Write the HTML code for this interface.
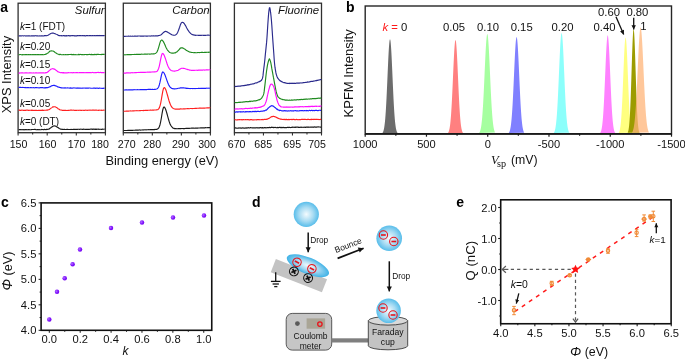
<!DOCTYPE html>
<html><head><meta charset="utf-8"><title>Figure</title>
<style>html,body{margin:0;padding:0;background:#fff;width:685px;height:360px;overflow:hidden}svg text{font-family:"Liberation Sans",sans-serif}</style>
</head><body>
<svg width="685" height="360" viewBox="0 0 685 360" style="display:block;filter:blur(0.4px);font-family:'Liberation Sans',sans-serif"><text x="0.20" y="11.70" font-size="14" text-anchor="start" fill="#000" style="font-weight:bold" >a</text>
<rect x="18.1" y="3.2" width="87.30" height="129.50" fill="none" stroke="#303030" stroke-width="1.3"/>
<rect x="123.3" y="3.2" width="87.10" height="129.50" fill="none" stroke="#303030" stroke-width="1.3"/>
<rect x="234.4" y="3.2" width="87.10" height="129.50" fill="none" stroke="#303030" stroke-width="1.3"/>
<line x1="18.10" y1="132.70" x2="18.10" y2="135.50" stroke="#303030" stroke-width="1.1" />
<line x1="32.65" y1="132.70" x2="32.65" y2="134.50" stroke="#303030" stroke-width="1.1" />
<line x1="47.20" y1="132.70" x2="47.20" y2="135.50" stroke="#303030" stroke-width="1.1" />
<line x1="61.75" y1="132.70" x2="61.75" y2="134.50" stroke="#303030" stroke-width="1.1" />
<line x1="76.30" y1="132.70" x2="76.30" y2="135.50" stroke="#303030" stroke-width="1.1" />
<line x1="90.85" y1="132.70" x2="90.85" y2="134.50" stroke="#303030" stroke-width="1.1" />
<line x1="105.40" y1="132.70" x2="105.40" y2="135.50" stroke="#303030" stroke-width="1.1" />
<line x1="123.30" y1="132.70" x2="123.30" y2="135.50" stroke="#303030" stroke-width="1.1" />
<line x1="137.82" y1="132.70" x2="137.82" y2="134.50" stroke="#303030" stroke-width="1.1" />
<line x1="152.33" y1="132.70" x2="152.33" y2="135.50" stroke="#303030" stroke-width="1.1" />
<line x1="166.85" y1="132.70" x2="166.85" y2="134.50" stroke="#303030" stroke-width="1.1" />
<line x1="181.37" y1="132.70" x2="181.37" y2="135.50" stroke="#303030" stroke-width="1.1" />
<line x1="195.88" y1="132.70" x2="195.88" y2="134.50" stroke="#303030" stroke-width="1.1" />
<line x1="210.40" y1="132.70" x2="210.40" y2="135.50" stroke="#303030" stroke-width="1.1" />
<line x1="234.40" y1="132.70" x2="234.40" y2="135.50" stroke="#303030" stroke-width="1.1" />
<line x1="248.92" y1="132.70" x2="248.92" y2="134.50" stroke="#303030" stroke-width="1.1" />
<line x1="263.43" y1="132.70" x2="263.43" y2="135.50" stroke="#303030" stroke-width="1.1" />
<line x1="277.95" y1="132.70" x2="277.95" y2="134.50" stroke="#303030" stroke-width="1.1" />
<line x1="292.47" y1="132.70" x2="292.47" y2="135.50" stroke="#303030" stroke-width="1.1" />
<line x1="306.98" y1="132.70" x2="306.98" y2="134.50" stroke="#303030" stroke-width="1.1" />
<line x1="321.50" y1="132.70" x2="321.50" y2="135.50" stroke="#303030" stroke-width="1.1" />
<text x="18.50" y="147.60" font-size="10.6" text-anchor="middle" fill="#111" style="" >150</text>
<text x="47.50" y="147.60" font-size="10.6" text-anchor="middle" fill="#111" style="" >160</text>
<text x="76.50" y="147.60" font-size="10.6" text-anchor="middle" fill="#111" style="" >170</text>
<text x="100.00" y="147.60" font-size="10.6" text-anchor="middle" fill="#111" style="" >180</text>
<text x="126.70" y="147.60" font-size="10.6" text-anchor="middle" fill="#111" style="" >270</text>
<text x="152.20" y="147.60" font-size="10.6" text-anchor="middle" fill="#111" style="" >280</text>
<text x="180.80" y="147.60" font-size="10.6" text-anchor="middle" fill="#111" style="" >290</text>
<text x="207.00" y="147.60" font-size="10.6" text-anchor="middle" fill="#111" style="" >300</text>
<text x="236.60" y="147.60" font-size="10.6" text-anchor="middle" fill="#111" style="" >670</text>
<text x="263.20" y="147.60" font-size="10.6" text-anchor="middle" fill="#111" style="" >685</text>
<text x="292.20" y="147.60" font-size="10.6" text-anchor="middle" fill="#111" style="" >695</text>
<text x="317.00" y="147.60" font-size="10.6" text-anchor="middle" fill="#111" style="" >705</text>
<text x="162.00" y="164.60" font-size="12.8" text-anchor="middle" fill="#111" style="" >Binding energy (eV)</text>
<text transform="translate(10.6,74.6) rotate(-90)" font-size="12.9" text-anchor="middle" fill="#111">XPS Intensity</text>
<text x="104.60" y="14.00" font-size="11.4" text-anchor="end" fill="#111" style="font-style:italic" >Sulfur</text>
<text x="209.60" y="14.00" font-size="11.4" text-anchor="end" fill="#111" style="font-style:italic" >Carbon</text>
<text x="319.20" y="14.00" font-size="11.4" text-anchor="end" fill="#111" style="font-style:italic" >Fluorine</text>
<text x="19.9" y="29.9" font-size="10" fill="#111"><tspan style="font-style:italic">k</tspan>=1 (FDT)</text>
<text x="19.9" y="49.7" font-size="10" fill="#111"><tspan style="font-style:italic">k</tspan>=0.20</text>
<text x="19.9" y="68.3" font-size="10" fill="#111"><tspan style="font-style:italic">k</tspan>=0.15</text>
<text x="19.9" y="84.0" font-size="10" fill="#111"><tspan style="font-style:italic">k</tspan>=0.10</text>
<text x="19.9" y="107.0" font-size="10" fill="#111"><tspan style="font-style:italic">k</tspan>=0.05</text>
<text x="19.9" y="125.1" font-size="10" fill="#111"><tspan style="font-style:italic">k</tspan>=0 (DT)</text>
<polyline points="18.60,35.81 19.30,35.91 20.00,35.85 20.70,35.93 21.40,35.93 22.10,35.73 22.80,35.71 23.50,36.00 24.20,35.79 24.90,35.78 25.60,36.05 26.30,35.86 27.00,35.99 27.70,35.86 28.40,35.91 29.10,35.74 29.80,35.91 30.50,35.99 31.20,35.86 31.90,35.94 32.60,35.91 33.30,35.69 34.00,35.94 34.70,35.87 35.40,35.77 36.10,35.67 36.80,35.96 37.50,35.82 38.20,35.91 38.90,35.96 39.60,35.90 40.30,35.97 41.00,35.78 41.70,35.92 42.40,35.80 43.10,35.96 43.80,35.94 44.50,35.65 45.20,35.64 45.90,35.62 46.60,35.79 47.30,35.44 48.00,35.25 48.70,34.77 49.40,34.41 50.10,33.90 50.80,33.47 51.50,33.24 52.20,33.08 52.90,33.16 53.60,33.17 54.30,33.44 55.00,33.67 55.70,34.04 56.40,34.29 57.10,34.48 57.80,35.07 58.50,35.39 59.20,35.58 59.90,35.61 60.60,35.74 61.30,35.61 62.00,35.85 62.70,35.77 63.40,35.67 64.10,35.59 64.80,35.86 65.50,35.91 66.20,35.59 66.90,35.84 67.60,35.70 68.30,35.60 69.00,35.65 69.70,35.82 70.40,35.85 71.10,35.56 71.80,35.75 72.50,35.55 73.20,35.79 73.90,35.65 74.60,35.84 75.30,35.87 76.00,35.70 76.70,35.87 77.40,35.63 78.10,35.54 78.80,35.73 79.50,35.52 80.20,35.58 80.90,35.65 81.60,35.72 82.30,35.56 83.00,35.52 83.70,35.80 84.40,35.61 85.10,35.83 85.80,35.81 86.50,35.62 87.20,35.65 87.90,35.67 88.60,35.71 89.30,35.69 90.00,35.67 90.70,35.69 91.40,35.80 92.10,35.65 92.80,35.62 93.50,35.72 94.20,35.55 94.90,35.57 95.60,35.80 96.30,35.64 97.00,35.64 97.70,35.45 98.40,35.59 99.10,35.65 99.80,35.45 100.50,35.66 101.20,35.66 101.90,35.46 102.60,35.65 103.30,35.59 104.00,35.67 104.70,35.55" fill="none" stroke="#2a2a8c" stroke-width="1.15" stroke-linejoin="round" />
<polyline points="18.60,54.77 19.30,54.78 20.00,54.53 20.70,54.54 21.40,54.75 22.10,54.85 22.80,54.60 23.50,54.67 24.20,54.72 24.90,54.62 25.60,54.63 26.30,54.62 27.00,54.63 27.70,54.71 28.40,54.61 29.10,54.63 29.80,54.77 30.50,54.51 31.20,54.69 31.90,54.75 32.60,54.60 33.30,54.57 34.00,54.77 34.70,54.57 35.40,54.55 36.10,54.64 36.80,54.73 37.50,54.52 38.20,54.59 38.90,54.59 39.60,54.77 40.30,54.63 41.00,54.77 41.70,54.53 42.40,54.58 43.10,54.68 43.80,54.74 44.50,54.53 45.20,54.34 45.90,54.11 46.60,53.93 47.30,53.35 48.00,52.99 48.70,52.36 49.40,51.52 50.10,51.08 50.80,50.97 51.50,50.82 52.20,50.97 52.90,51.03 53.60,51.28 54.30,51.76 55.00,52.43 55.70,52.77 56.40,53.29 57.10,53.74 57.80,54.07 58.50,54.29 59.20,54.61 59.90,54.42 60.60,54.40 61.30,54.74 62.00,54.73 62.70,54.77 63.40,54.57 64.10,54.75 64.80,54.74 65.50,54.49 66.20,54.68 66.90,54.71 67.60,54.64 68.30,54.59 69.00,54.51 69.70,54.53 70.40,54.48 71.10,54.43 71.80,54.61 72.50,54.50 73.20,54.68 73.90,54.41 74.60,54.71 75.30,54.64 76.00,54.72 76.70,54.70 77.40,54.70 78.10,54.59 78.80,54.39 79.50,54.64 80.20,54.44 80.90,54.49 81.60,54.61 82.30,54.56 83.00,54.52 83.70,54.70 84.40,54.59 85.10,54.49 85.80,54.46 86.50,54.67 87.20,54.53 87.90,54.64 88.60,54.49 89.30,54.43 90.00,54.55 90.70,54.64 91.40,54.42 92.10,54.63 92.80,54.68 93.50,54.63 94.20,54.64 94.90,54.35 95.60,54.57 96.30,54.65 97.00,54.36 97.70,54.44 98.40,54.43 99.10,54.52 99.80,54.48 100.50,54.50 101.20,54.61 101.90,54.33 102.60,54.35 103.30,54.37 104.00,54.37 104.70,54.35" fill="none" stroke="#1f8a1f" stroke-width="1.15" stroke-linejoin="round" />
<polyline points="18.60,73.16 19.30,73.12 20.00,72.84 20.70,72.99 21.40,72.92 22.10,72.91 22.80,72.92 23.50,73.02 24.20,72.99 24.90,72.91 25.60,72.85 26.30,72.89 27.00,72.82 27.70,72.96 28.40,73.02 29.10,72.89 29.80,72.79 30.50,72.82 31.20,72.88 31.90,72.96 32.60,73.02 33.30,72.87 34.00,73.01 34.70,72.95 35.40,72.88 36.10,72.85 36.80,72.89 37.50,72.96 38.20,72.86 38.90,72.95 39.60,72.86 40.30,72.78 41.00,72.88 41.70,72.93 42.40,72.71 43.10,72.83 43.80,72.82 44.50,72.95 45.20,72.93 45.90,72.64 46.60,72.65 47.30,72.32 48.00,71.70 48.70,71.18 49.40,70.38 50.10,69.92 50.80,69.27 51.50,68.94 52.20,68.71 52.90,68.68 53.60,68.89 54.30,69.14 55.00,69.40 55.70,70.08 56.40,70.43 57.10,71.04 57.80,71.76 58.50,71.91 59.20,72.21 59.90,72.40 60.60,72.78 61.30,72.59 62.00,72.56 62.70,72.86 63.40,72.60 64.10,72.85 64.80,72.79 65.50,72.84 66.20,72.88 66.90,72.75 67.60,72.82 68.30,72.55 69.00,72.80 69.70,72.71 70.40,72.77 71.10,72.56 71.80,72.78 72.50,72.84 73.20,72.53 73.90,72.62 74.60,72.70 75.30,72.79 76.00,72.58 76.70,72.55 77.40,72.57 78.10,72.70 78.80,72.74 79.50,72.61 80.20,72.60 80.90,72.60 81.60,72.58 82.30,72.60 83.00,72.48 83.70,72.62 84.40,72.78 85.10,72.58 85.80,72.70 86.50,72.49 87.20,72.67 87.90,72.69 88.60,72.66 89.30,72.60 90.00,72.58 90.70,72.63 91.40,72.72 92.10,72.45 92.80,72.43 93.50,72.65 94.20,72.71 94.90,72.56 95.60,72.53 96.30,72.63 97.00,72.44 97.70,72.46 98.40,72.43 99.10,72.56 99.80,72.47 100.50,72.43 101.20,72.59 101.90,72.68 102.60,72.44 103.30,72.58 104.00,72.48 104.70,72.63" fill="none" stroke="#ff10ff" stroke-width="1.15" stroke-linejoin="round" />
<polyline points="18.60,87.54 19.30,87.43 20.00,87.42 20.70,87.36 21.40,87.52 22.10,87.50 22.80,87.43 23.50,87.50 24.20,87.49 24.90,87.66 25.60,87.45 26.30,87.75 27.00,87.58 27.70,87.62 28.40,87.58 29.10,87.72 29.80,87.72 30.50,87.63 31.20,87.61 31.90,87.71 32.60,87.76 33.30,87.61 34.00,87.73 34.70,87.81 35.40,87.65 36.10,87.57 36.80,87.58 37.50,87.76 38.20,87.75 38.90,87.85 39.60,87.82 40.30,87.61 41.00,87.60 41.70,87.63 42.40,87.61 43.10,87.80 43.80,87.86 44.50,87.88 45.20,87.66 45.90,87.86 46.60,87.64 47.30,87.62 48.00,87.61 48.70,87.19 49.40,86.92 50.10,86.82 50.80,86.24 51.50,85.89 52.20,85.67 52.90,85.53 53.60,85.25 54.30,85.42 55.00,85.61 55.70,85.84 56.40,86.01 57.10,86.46 57.80,86.92 58.50,87.04 59.20,87.37 59.90,87.43 60.60,87.63 61.30,87.86 62.00,87.73 62.70,88.03 63.40,88.05 64.10,87.78 64.80,88.08 65.50,87.89 66.20,88.04 66.90,88.04 67.60,87.88 68.30,88.02 69.00,88.02 69.70,88.08 70.40,87.90 71.10,88.08 71.80,88.16 72.50,88.06 73.20,88.02 73.90,87.88 74.60,88.02 75.30,87.98 76.00,88.11 76.70,88.10 77.40,88.07 78.10,87.94 78.80,88.11 79.50,88.11 80.20,87.96 80.90,88.21 81.60,88.14 82.30,87.96 83.00,88.25 83.70,87.98 84.40,88.05 85.10,88.19 85.80,88.16 86.50,88.15 87.20,88.19 87.90,88.13 88.60,88.08 89.30,88.04 90.00,88.01 90.70,88.24 91.40,88.26 92.10,88.20 92.80,88.27 93.50,88.14 94.20,88.12 94.90,88.17 95.60,88.34 96.30,88.06 97.00,88.23 97.70,88.14 98.40,88.33 99.10,88.19 99.80,88.19 100.50,88.22 101.20,88.28 101.90,88.37 102.60,88.23 103.30,88.41 104.00,88.16 104.70,88.22" fill="none" stroke="#1e1eff" stroke-width="1.15" stroke-linejoin="round" />
<polyline points="18.60,110.16 19.30,110.16 20.00,110.40 20.70,110.38 21.40,110.19 22.10,110.19 22.80,110.27 23.50,110.39 24.20,110.41 24.90,110.39 25.60,110.33 26.30,110.18 27.00,110.26 27.70,110.19 28.40,110.31 29.10,110.32 29.80,110.20 30.50,110.21 31.20,110.40 31.90,110.14 32.60,110.41 33.30,110.44 34.00,110.46 34.70,110.26 35.40,110.32 36.10,110.33 36.80,110.35 37.50,110.47 38.20,110.37 38.90,110.23 39.60,110.43 40.30,110.29 41.00,110.34 41.70,110.38 42.40,110.13 43.10,110.39 43.80,110.36 44.50,110.29 45.20,110.30 45.90,110.26 46.60,110.14 47.30,110.18 48.00,109.86 48.70,109.78 49.40,109.45 50.10,108.88 50.80,108.34 51.50,107.89 52.20,107.35 52.90,106.74 53.60,106.81 54.30,106.76 55.00,106.72 55.70,107.10 56.40,107.42 57.10,107.80 57.80,108.45 58.50,109.07 59.20,109.29 59.90,109.83 60.60,110.02 61.30,109.99 62.00,110.34 62.70,110.30 63.40,110.43 64.10,110.37 64.80,110.38 65.50,110.24 66.20,110.41 66.90,110.45 67.60,110.43 68.30,110.28 69.00,110.39 69.70,110.29 70.40,110.16 71.10,110.14 71.80,110.15 72.50,110.20 73.20,110.18 73.90,110.30 74.60,110.37 75.30,110.31 76.00,110.27 76.70,110.35 77.40,110.23 78.10,110.29 78.80,110.39 79.50,110.27 80.20,110.19 80.90,110.44 81.60,110.38 82.30,110.25 83.00,110.25 83.70,110.31 84.40,110.33 85.10,110.20 85.80,110.13 86.50,110.20 87.20,110.40 87.90,110.18 88.60,110.29 89.30,110.19 90.00,110.20 90.70,110.18 91.40,110.27 92.10,110.18 92.80,110.13 93.50,110.16 94.20,110.18 94.90,110.30 95.60,110.15 96.30,110.13 97.00,110.28 97.70,110.27 98.40,110.37 99.10,110.14 99.80,110.27 100.50,110.26 101.20,110.13 101.90,110.46 102.60,110.20 103.30,110.16 104.00,110.29 104.70,110.18" fill="none" stroke="#ff2020" stroke-width="1.15" stroke-linejoin="round" />
<polyline points="18.60,129.74 19.30,129.64 20.00,129.56 20.70,129.53 21.40,129.76 22.10,129.60 22.80,129.77 23.50,129.66 24.20,129.82 24.90,129.59 25.60,129.57 26.30,129.57 27.00,129.76 27.70,129.69 28.40,129.59 29.10,129.49 29.80,129.70 30.50,129.79 31.20,129.66 31.90,129.45 32.60,129.45 33.30,129.47 34.00,129.49 34.70,129.44 35.40,129.44 36.10,129.65 36.80,129.73 37.50,129.48 38.20,129.75 38.90,129.57 39.60,129.68 40.30,129.72 41.00,129.72 41.70,129.40 42.40,129.49 43.10,129.59 43.80,129.71 44.50,129.40 45.20,129.47 45.90,129.65 46.60,129.36 47.30,129.39 48.00,129.24 48.70,129.15 49.40,128.89 50.10,128.16 50.80,127.79 51.50,127.18 52.20,126.67 52.90,126.17 53.60,126.08 54.30,125.84 55.00,125.98 55.70,126.15 56.40,126.68 57.10,126.99 57.80,127.39 58.50,127.83 59.20,128.47 59.90,128.81 60.60,129.12 61.30,129.19 62.00,129.33 62.70,129.27 63.40,129.49 64.10,129.26 64.80,129.42 65.50,129.52 66.20,129.48 66.90,129.28 67.60,129.32 68.30,129.53 69.00,129.46 69.70,129.54 70.40,129.53 71.10,129.38 71.80,129.53 72.50,129.47 73.20,129.32 73.90,129.33 74.60,129.22 75.30,129.34 76.00,129.53 76.70,129.22 77.40,129.38 78.10,129.22 78.80,129.20 79.50,129.40 80.20,129.25 80.90,129.18 81.60,129.21 82.30,129.38 83.00,129.36 83.70,129.15 84.40,129.22 85.10,129.48 85.80,129.21 86.50,129.33 87.20,129.27 87.90,129.40 88.60,129.33 89.30,129.39 90.00,129.30 90.70,129.17 91.40,129.17 92.10,129.13 92.80,129.38 93.50,129.13 94.20,129.10 94.90,129.42 95.60,129.15 96.30,129.39 97.00,129.10 97.70,129.23 98.40,129.14 99.10,129.35 99.80,129.27 100.50,129.28 101.20,129.31 101.90,129.35 102.60,129.16 103.30,129.25 104.00,129.19 104.70,129.07" fill="none" stroke="#1a1a1a" stroke-width="1.15" stroke-linejoin="round" />
<polyline points="123.60,36.36 124.30,36.30 125.00,36.34 125.70,36.21 126.40,36.26 127.10,36.24 127.80,36.28 128.50,36.15 129.20,36.19 129.90,36.21 130.60,36.12 131.30,36.21 132.00,36.23 132.70,36.16 133.40,36.20 134.10,36.18 134.80,36.09 135.50,36.11 136.20,36.23 136.90,36.09 137.60,36.10 138.30,36.02 139.00,36.04 139.70,36.02 140.40,36.17 141.10,36.12 141.80,36.14 142.50,36.15 143.20,36.07 143.90,36.12 144.60,36.03 145.30,36.00 146.00,36.10 146.70,36.08 147.40,36.08 148.10,35.98 148.80,36.03 149.50,35.95 150.20,36.06 150.90,36.03 151.60,35.90 152.30,36.02 153.00,35.86 153.70,35.83 154.40,35.95 155.10,35.85 155.80,35.88 156.50,35.88 157.20,35.73 157.90,35.81 158.60,35.62 159.30,35.49 160.00,35.22 160.70,34.94 161.40,34.47 162.10,33.79 162.80,33.11 163.50,32.50 164.20,31.97 164.90,31.52 165.60,31.39 166.30,31.59 167.00,31.80 167.70,32.20 168.40,32.64 169.10,33.11 169.80,33.51 170.50,33.93 171.20,34.37 171.90,34.74 172.60,35.00 173.30,35.18 174.00,35.21 174.70,35.26 175.40,34.93 176.10,34.52 176.80,33.86 177.50,32.73 178.20,31.11 178.90,29.24 179.60,27.28 180.30,25.09 181.00,23.44 181.70,22.49 182.40,22.27 183.10,22.46 183.80,23.03 184.50,23.94 185.20,25.14 185.90,26.31 186.60,27.71 187.30,28.96 188.00,30.22 188.70,31.13 189.40,32.12 190.10,32.89 190.80,33.63 191.50,34.12 192.20,34.45 192.90,34.82 193.60,34.93 194.30,35.11 195.00,35.18 195.70,35.34 196.40,35.30 197.10,35.28 197.80,35.24 198.50,35.32 199.20,35.36 199.90,35.36 200.60,35.40 201.30,35.37 202.00,35.25 202.70,35.22 203.40,35.34 204.10,35.33 204.80,35.27 205.50,35.32 206.20,35.26 206.90,35.20 207.60,35.16 208.30,35.12 209.00,35.24 209.70,35.28 210.40,35.28" fill="none" stroke="#2a2a8c" stroke-width="1.15" stroke-linejoin="round" />
<polyline points="123.60,54.78 124.30,54.79 125.00,54.83 125.70,54.78 126.40,54.72 127.10,54.66 127.80,54.66 128.50,54.57 129.20,54.55 129.90,54.63 130.60,54.67 131.30,54.56 132.00,54.51 132.70,54.48 133.40,54.48 134.10,54.53 134.80,54.44 135.50,54.52 136.20,54.34 136.90,54.35 137.60,54.37 138.30,54.33 139.00,54.39 139.70,54.37 140.40,54.37 141.10,54.28 141.80,54.14 142.50,54.23 143.20,54.21 143.90,54.17 144.60,54.11 145.30,54.18 146.00,54.19 146.70,54.01 147.40,54.10 148.10,54.02 148.80,54.03 149.50,54.09 150.20,54.08 150.90,53.99 151.60,53.88 152.30,54.00 153.00,53.82 153.70,53.82 154.40,53.81 155.10,53.52 155.80,53.14 156.50,52.61 157.20,51.50 157.90,49.73 158.60,47.57 159.30,45.06 160.00,42.63 160.70,40.82 161.40,40.16 162.10,40.13 162.80,40.81 163.50,41.87 164.20,43.22 164.90,44.85 165.60,46.47 166.30,47.98 167.00,49.28 167.70,50.44 168.40,51.18 169.10,51.91 169.80,52.54 170.50,52.69 171.20,52.95 171.90,53.11 172.60,53.12 173.30,53.17 174.00,53.01 174.70,52.91 175.40,52.83 176.10,52.33 176.80,52.00 177.50,51.23 178.20,50.65 178.90,49.79 179.60,49.01 180.30,48.27 181.00,47.86 181.70,47.90 182.40,47.88 183.10,48.11 183.80,48.57 184.50,49.01 185.20,49.32 185.90,50.01 186.60,50.42 187.30,50.85 188.00,51.21 188.70,51.62 189.40,52.03 190.10,52.11 190.80,52.25 191.50,52.38 192.20,52.45 192.90,52.55 193.60,52.69 194.30,52.53 195.00,52.56 195.70,52.70 196.40,52.70 197.10,52.68 197.80,52.51 198.50,52.51 199.20,52.61 199.90,52.50 200.60,52.52 201.30,52.42 202.00,52.34 202.70,52.39 203.40,52.45 204.10,52.43 204.80,52.37 205.50,52.33 206.20,52.32 206.90,52.28 207.60,52.28 208.30,52.32 209.00,52.17 209.70,52.23 210.40,52.27" fill="none" stroke="#1f8a1f" stroke-width="1.15" stroke-linejoin="round" />
<polyline points="123.60,73.15 124.30,72.99 125.00,73.12 125.70,73.07 126.40,72.90 127.10,72.90 127.80,72.86 128.50,72.80 129.20,72.96 129.90,72.82 130.60,72.89 131.30,72.71 132.00,72.66 132.70,72.81 133.40,72.76 134.10,72.78 134.80,72.69 135.50,72.63 136.20,72.65 136.90,72.49 137.60,72.55 138.30,72.51 139.00,72.42 139.70,72.49 140.40,72.40 141.10,72.41 141.80,72.36 142.50,72.32 143.20,72.31 143.90,72.33 144.60,72.38 145.30,72.34 146.00,72.30 146.70,72.27 147.40,72.13 148.10,72.24 148.80,72.08 149.50,72.02 150.20,72.07 150.90,72.09 151.60,71.98 152.30,72.02 153.00,71.92 153.70,72.03 154.40,71.89 155.10,71.84 155.80,71.75 156.50,71.60 157.20,71.15 157.90,70.13 158.60,68.49 159.30,66.05 160.00,62.65 160.70,59.05 161.40,55.85 162.10,53.80 162.80,53.37 163.50,54.16 164.20,55.34 164.90,57.22 165.60,59.16 166.30,61.31 167.00,63.48 167.70,65.45 168.40,66.97 169.10,68.35 169.80,69.30 170.50,69.93 171.20,70.40 171.90,70.75 172.60,70.91 173.30,71.00 174.00,71.09 174.70,71.12 175.40,71.00 176.10,70.81 176.80,70.67 177.50,70.48 178.20,70.23 178.90,69.77 179.60,69.35 180.30,68.98 181.00,68.60 181.70,68.28 182.40,68.26 183.10,68.33 183.80,68.33 184.50,68.52 185.20,68.74 185.90,68.97 186.60,69.23 187.30,69.38 188.00,69.66 188.70,69.75 189.40,70.07 190.10,70.10 190.80,70.22 191.50,70.37 192.20,70.30 192.90,70.30 193.60,70.43 194.30,70.38 195.00,70.27 195.70,70.24 196.40,70.28 197.10,70.19 197.80,70.33 198.50,70.17 199.20,70.16 199.90,70.16 200.60,70.16 201.30,70.12 202.00,70.13 202.70,70.11 203.40,70.04 204.10,69.94 204.80,70.09 205.50,70.01 206.20,69.86 206.90,69.91 207.60,69.94 208.30,69.96 209.00,69.75 209.70,69.71 210.40,69.78" fill="none" stroke="#ff10ff" stroke-width="1.15" stroke-linejoin="round" />
<polyline points="123.60,89.97 124.30,90.05 125.00,90.02 125.70,89.91 126.40,89.91 127.10,89.93 127.80,89.98 128.50,89.83 129.20,89.85 129.90,89.77 130.60,89.87 131.30,89.73 132.00,89.90 132.70,89.80 133.40,89.80 134.10,89.69 134.80,89.70 135.50,89.74 136.20,89.80 136.90,89.72 137.60,89.65 138.30,89.78 139.00,89.70 139.70,89.66 140.40,89.58 141.10,89.59 141.80,89.69 142.50,89.52 143.20,89.59 143.90,89.59 144.60,89.52 145.30,89.59 146.00,89.61 146.70,89.58 147.40,89.54 148.10,89.42 148.80,89.38 149.50,89.44 150.20,89.40 150.90,89.36 151.60,89.48 152.30,89.34 153.00,89.44 153.70,89.45 154.40,89.27 155.10,89.40 155.80,89.23 156.50,89.06 157.20,88.74 157.90,88.05 158.60,86.94 159.30,84.94 160.00,82.23 160.70,78.85 161.40,75.34 162.10,72.90 162.80,71.95 163.50,72.24 164.20,73.22 164.90,74.72 165.60,76.67 166.30,78.64 167.00,80.64 167.70,82.56 168.40,84.27 169.10,85.66 169.80,86.65 170.50,87.53 171.20,87.98 171.90,88.43 172.60,88.65 173.30,88.69 174.00,88.86 174.70,88.80 175.40,88.80 176.10,88.74 176.80,88.65 177.50,88.48 178.20,88.25 178.90,88.23 179.60,88.09 180.30,87.89 181.00,87.83 181.70,87.74 182.40,87.88 183.10,87.88 183.80,87.85 184.50,88.05 185.20,88.17 185.90,88.14 186.60,88.35 187.30,88.33 188.00,88.33 188.70,88.49 189.40,88.46 190.10,88.56 190.80,88.55 191.50,88.46 192.20,88.55 192.90,88.61 193.60,88.53 194.30,88.53 195.00,88.58 195.70,88.48 196.40,88.48 197.10,88.48 197.80,88.52 198.50,88.38 199.20,88.34 199.90,88.46 200.60,88.40 201.30,88.34 202.00,88.44 202.70,88.43 203.40,88.34 204.10,88.42 204.80,88.37 205.50,88.34 206.20,88.24 206.90,88.17 207.60,88.29 208.30,88.28 209.00,88.19 209.70,88.20 210.40,88.21" fill="none" stroke="#1e1eff" stroke-width="1.15" stroke-linejoin="round" />
<polyline points="123.60,111.23 124.30,111.29 125.00,111.23 125.70,111.17 126.40,111.09 127.10,111.15 127.80,111.07 128.50,111.12 129.20,110.99 129.90,111.00 130.60,110.93 131.30,110.95 132.00,110.95 132.70,110.83 133.40,110.79 134.10,110.85 134.80,110.77 135.50,110.80 136.20,110.70 136.90,110.66 137.60,110.72 138.30,110.77 139.00,110.73 139.70,110.63 140.40,110.58 141.10,110.49 141.80,110.50 142.50,110.48 143.20,110.58 143.90,110.38 144.60,110.52 145.30,110.40 146.00,110.36 146.70,110.30 147.40,110.41 148.10,110.23 148.80,110.28 149.50,110.24 150.20,110.15 150.90,110.12 151.60,110.25 152.30,110.18 153.00,110.14 153.70,110.15 154.40,109.96 155.10,110.04 155.80,110.01 156.50,109.84 157.20,109.75 157.90,109.57 158.60,108.86 159.30,107.84 160.00,105.83 160.70,103.09 161.40,99.25 162.10,95.04 162.80,91.03 163.50,88.36 164.20,87.50 164.90,87.96 165.60,89.27 166.30,91.12 167.00,93.54 167.70,95.99 168.40,98.60 169.10,101.00 169.80,103.06 170.50,104.73 171.20,106.12 171.90,107.24 172.60,107.88 173.30,108.48 174.00,108.74 174.70,109.02 175.40,109.10 176.10,109.12 176.80,109.07 177.50,108.99 178.20,109.08 178.90,109.10 179.60,109.11 180.30,108.93 181.00,108.90 181.70,109.03 182.40,108.96 183.10,108.88 183.80,108.90 184.50,108.76 185.20,108.81 185.90,108.80 186.60,108.76 187.30,108.65 188.00,108.61 188.70,108.68 189.40,108.71 190.10,108.53 190.80,108.47 191.50,108.46 192.20,108.57 192.90,108.47 193.60,108.45 194.30,108.53 195.00,108.43 195.70,108.33 196.40,108.39 197.10,108.22 197.80,108.25 198.50,108.30 199.20,108.17 199.90,108.11 200.60,108.18 201.30,108.12 202.00,108.22 202.70,108.01 203.40,108.13 204.10,108.02 204.80,108.07 205.50,107.97 206.20,107.99 206.90,107.89 207.60,107.84 208.30,107.86 209.00,107.90 209.70,107.78 210.40,107.73" fill="none" stroke="#ff2020" stroke-width="1.15" stroke-linejoin="round" />
<polyline points="123.60,130.56 124.30,130.47 125.00,130.49 125.70,130.52 126.40,130.49 127.10,130.48 127.80,130.39 128.50,130.32 129.20,130.29 129.90,130.33 130.60,130.28 131.30,130.33 132.00,130.24 132.70,130.32 133.40,130.26 134.10,130.25 134.80,130.24 135.50,130.17 136.20,130.13 136.90,130.08 137.60,130.01 138.30,130.13 139.00,130.05 139.70,129.94 140.40,130.09 141.10,129.99 141.80,129.98 142.50,129.92 143.20,129.83 143.90,129.98 144.60,129.79 145.30,129.80 146.00,129.91 146.70,129.71 147.40,129.76 148.10,129.73 148.80,129.66 149.50,129.77 150.20,129.64 150.90,129.54 151.60,129.61 152.30,129.49 153.00,129.61 153.70,129.61 154.40,129.60 155.10,129.40 155.80,129.48 156.50,129.33 157.20,129.20 157.90,128.82 158.60,128.11 159.30,126.78 160.00,124.74 160.70,121.51 161.40,117.73 162.10,113.28 162.80,109.73 163.50,107.31 164.20,106.97 164.90,107.84 165.60,109.28 166.30,111.38 167.00,113.76 167.70,116.37 168.40,118.79 169.10,121.22 169.80,123.19 170.50,124.92 171.20,126.00 171.90,126.95 172.60,127.73 173.30,128.22 174.00,128.39 174.70,128.61 175.40,128.67 176.10,128.68 176.80,128.70 177.50,128.72 178.20,128.59 178.90,128.63 179.60,128.69 180.30,128.58 181.00,128.59 181.70,128.53 182.40,128.52 183.10,128.56 183.80,128.55 184.50,128.57 185.20,128.45 185.90,128.37 186.60,128.37 187.30,128.29 188.00,128.31 188.70,128.35 189.40,128.33 190.10,128.23 190.80,128.20 191.50,128.16 192.20,128.15 192.90,128.19 193.60,128.12 194.30,128.22 195.00,128.13 195.70,128.06 196.40,128.06 197.10,127.95 197.80,128.07 198.50,128.05 199.20,127.95 199.90,127.99 200.60,127.88 201.30,127.84 202.00,127.82 202.70,127.79 203.40,127.85 204.10,127.83 204.80,127.82 205.50,127.68 206.20,127.78 206.90,127.70 207.60,127.66 208.30,127.66 209.00,127.62 209.70,127.55 210.40,127.57" fill="none" stroke="#1a1a1a" stroke-width="1.15" stroke-linejoin="round" />
<polyline points="234.60,86.52 235.00,86.52 235.40,86.56 235.80,86.28 236.20,86.50 236.60,86.44 237.00,86.37 237.40,86.43 237.80,86.10 238.20,86.29 238.60,86.30 239.00,85.99 239.40,86.11 239.80,86.20 240.20,85.93 240.60,86.08 241.00,86.05 241.40,85.84 241.80,85.70 242.20,85.68 242.60,85.84 243.00,85.65 243.40,85.56 243.80,85.55 244.20,85.67 244.60,85.37 245.00,85.23 245.40,85.49 245.80,85.21 246.20,85.17 246.60,85.31 247.00,84.99 247.40,84.85 247.80,85.06 248.20,84.76 248.60,84.68 249.00,84.85 249.40,84.53 249.80,84.68 250.20,84.40 250.60,84.31 251.00,84.19 251.40,84.22 251.80,84.13 252.20,83.98 252.60,83.92 253.00,83.75 253.40,83.83 253.80,83.76 254.20,83.58 254.60,83.49 255.00,83.11 255.40,83.05 255.80,82.91 256.20,82.76 256.60,82.91 257.00,82.74 257.40,82.60 257.80,82.33 258.20,82.03 258.60,81.98 259.00,81.68 259.40,81.78 259.80,81.35 260.20,81.11 260.60,81.07 261.00,80.50 261.40,80.37 261.80,79.64 262.20,79.04 262.60,77.86 263.00,75.68 263.40,71.73 263.80,68.37 264.20,65.38 264.60,62.03 265.00,58.07 265.40,53.90 265.80,50.08 266.20,46.13 266.60,42.41 267.00,37.32 267.40,31.12 267.80,24.82 268.20,19.07 268.60,13.88 269.00,10.41 269.40,7.79 269.80,7.68 270.20,9.70 270.60,12.34 271.00,15.93 271.40,19.98 271.80,25.16 272.20,31.03 272.60,37.00 273.00,42.59 273.40,48.09 273.80,53.43 274.20,59.48 274.60,63.98 275.00,67.46 275.40,69.96 275.80,72.17 276.20,74.05 276.60,75.33 277.00,76.55 277.40,77.40 277.80,78.13 278.20,78.72 278.60,79.23 279.00,79.75 279.40,79.95 279.80,80.57 280.20,80.56 280.60,81.09 281.00,81.10 281.40,81.56 281.80,81.60 282.20,81.75 282.60,82.11 283.00,82.39 283.40,82.54 283.80,82.68 284.20,82.82 284.60,82.59 285.00,82.80 285.40,82.80 285.80,83.11 286.20,83.08 286.60,83.26 287.00,83.34 287.40,83.47 287.80,83.40 288.20,83.50 288.60,83.41 289.00,83.25 289.40,83.54 289.80,83.25 290.20,83.25 290.60,83.50 291.00,83.31 291.40,83.43 291.80,83.20 292.20,83.25 292.60,83.42 293.00,83.17 293.40,83.32 293.80,83.46 294.20,83.19 294.60,83.35 295.00,83.34 295.40,83.28 295.80,83.32 296.20,83.27 296.60,83.01 297.00,83.06 297.40,83.16 297.80,83.29 298.20,83.00 298.60,83.11 299.00,82.93 299.40,83.16 299.80,82.99 300.20,83.00 300.60,83.02 301.00,82.80 301.40,82.98 301.80,82.97 302.20,82.95 302.60,82.70 303.00,82.64 303.40,82.57 303.80,82.77 304.20,82.56 304.60,82.49 305.00,82.48 305.40,82.48 305.80,82.29 306.20,82.24 306.60,82.33 307.00,82.27 307.40,82.04 307.80,81.90 308.20,82.13 308.60,82.00 309.00,81.89 309.40,81.76 309.80,81.89 310.20,81.64 310.60,81.51 311.00,81.40 311.40,81.42 311.80,81.45 312.20,81.30 312.60,81.43 313.00,81.26 313.40,81.12 313.80,81.12 314.20,81.02 314.60,80.96 315.00,80.84 315.40,80.77 315.80,80.68 316.20,80.72 316.60,80.42 317.00,80.55 317.40,80.30 317.80,80.41 318.20,80.05 318.60,80.11 319.00,80.02 319.40,80.02 319.80,79.76 320.20,79.69 320.60,79.56 321.00,79.62 321.40,79.54" fill="none" stroke="#2a2a8c" stroke-width="1.15" stroke-linejoin="round" />
<polyline points="234.60,102.49 235.00,102.53 235.40,102.52 235.80,102.76 236.20,102.56 236.60,102.57 237.00,102.45 237.40,102.55 237.80,102.58 238.20,102.50 238.60,102.24 239.00,102.36 239.40,102.35 239.80,102.17 240.20,102.40 240.60,102.20 241.00,102.16 241.40,102.25 241.80,102.20 242.20,102.14 242.60,102.23 243.00,102.08 243.40,101.98 243.80,101.85 244.20,101.99 244.60,101.89 245.00,101.91 245.40,101.81 245.80,101.66 246.20,101.63 246.60,101.64 247.00,101.58 247.40,101.81 247.80,101.68 248.20,101.52 248.60,101.65 249.00,101.59 249.40,101.35 249.80,101.55 250.20,101.32 250.60,101.55 251.00,101.21 251.40,101.21 251.80,101.15 252.20,101.32 252.60,101.25 253.00,101.12 253.40,100.91 253.80,100.96 254.20,100.99 254.60,100.71 255.00,100.95 255.40,100.86 255.80,100.82 256.20,100.67 256.60,100.57 257.00,100.61 257.40,100.27 257.80,100.19 258.20,100.01 258.60,99.91 259.00,99.99 259.40,99.60 259.80,99.64 260.20,99.27 260.60,99.13 261.00,98.72 261.40,98.28 261.80,97.87 262.20,97.08 262.60,96.56 263.00,95.84 263.40,94.89 263.80,93.66 264.20,91.14 264.60,87.63 265.00,84.35 265.40,80.84 265.80,77.13 266.20,73.73 266.60,70.76 267.00,68.20 267.40,65.65 267.80,63.57 268.20,62.04 268.60,60.53 269.00,59.61 269.40,58.83 269.80,59.53 270.20,60.62 270.60,61.89 271.00,63.73 271.40,65.91 271.80,68.46 272.20,70.67 272.60,72.72 273.00,74.99 273.40,77.16 273.80,79.07 274.20,81.44 274.60,83.56 275.00,85.70 275.40,87.81 275.80,89.84 276.20,91.65 276.60,93.22 277.00,94.32 277.40,95.62 277.80,96.44 278.20,97.11 278.60,97.35 279.00,97.68 279.40,98.21 279.80,98.40 280.20,98.54 280.60,98.82 281.00,98.95 281.40,99.17 281.80,99.25 282.20,99.27 282.60,99.62 283.00,99.68 283.40,99.72 283.80,99.64 284.20,99.69 284.60,99.95 285.00,100.05 285.40,100.05 285.80,99.95 286.20,100.18 286.60,100.15 287.00,100.12 287.40,100.22 287.80,100.18 288.20,100.25 288.60,100.29 289.00,100.36 289.40,100.05 289.80,100.20 290.20,100.32 290.60,100.21 291.00,100.17 291.40,100.25 291.80,99.94 292.20,100.19 292.60,100.11 293.00,100.08 293.40,99.96 293.80,100.04 294.20,99.84 294.60,99.96 295.00,99.84 295.40,100.05 295.80,99.98 296.20,99.84 296.60,99.91 297.00,99.75 297.40,99.77 297.80,99.62 298.20,99.84 298.60,99.78 299.00,99.75 299.40,99.49 299.80,99.72 300.20,99.42 300.60,99.59 301.00,99.54 301.40,99.36 301.80,99.46 302.20,99.60 302.60,99.48 303.00,99.34 303.40,99.49 303.80,99.30 304.20,99.46 304.60,99.26 305.00,99.12 305.40,99.40 305.80,99.06 306.20,99.09 306.60,99.24 307.00,98.98 307.40,99.11 307.80,99.19 308.20,99.06 308.60,98.95 309.00,99.06 309.40,99.06 309.80,98.94 310.20,98.93 310.60,98.79 311.00,98.80 311.40,98.97 311.80,98.94 312.20,98.57 312.60,98.61 313.00,98.59 313.40,98.76 313.80,98.52 314.20,98.48 314.60,98.66 315.00,98.42 315.40,98.68 315.80,98.47 316.20,98.59 316.60,98.54 317.00,98.29 317.40,98.47 317.80,98.31 318.20,98.21 318.60,98.12 319.00,98.32 319.40,98.24 319.80,98.12 320.20,98.28 320.60,98.02 321.00,98.08 321.40,97.93" fill="none" stroke="#1f8a1f" stroke-width="1.15" stroke-linejoin="round" />
<polyline points="234.60,109.03 235.00,109.20 235.40,109.05 235.80,108.92 236.20,108.93 236.60,109.06 237.00,108.91 237.40,109.11 237.80,108.80 238.20,109.07 238.60,108.96 239.00,109.02 239.40,108.83 239.80,108.72 240.20,108.73 240.60,108.87 241.00,108.64 241.40,108.65 241.80,108.87 242.20,108.88 242.60,108.85 243.00,108.83 243.40,108.71 243.80,108.80 244.20,108.71 244.60,108.64 245.00,108.57 245.40,108.41 245.80,108.41 246.20,108.45 246.60,108.50 247.00,108.36 247.40,108.63 247.80,108.47 248.20,108.50 248.60,108.53 249.00,108.27 249.40,108.48 249.80,108.48 250.20,108.21 250.60,108.13 251.00,108.34 251.40,108.34 251.80,108.28 252.20,108.11 252.60,108.15 253.00,107.95 253.40,107.95 253.80,107.98 254.20,108.06 254.60,107.79 255.00,108.05 255.40,107.70 255.80,107.98 256.20,107.69 256.60,107.85 257.00,107.80 257.40,107.80 257.80,107.58 258.20,107.60 258.60,107.40 259.00,107.52 259.40,107.20 259.80,107.40 260.20,107.21 260.60,106.94 261.00,107.15 261.40,106.83 261.80,106.61 262.20,106.52 262.60,106.25 263.00,106.12 263.40,106.02 263.80,105.83 264.20,105.36 264.60,104.93 265.00,104.24 265.40,103.38 265.80,102.31 266.20,101.20 266.60,99.79 267.00,98.00 267.40,95.83 267.80,94.20 268.20,92.27 268.60,90.64 269.00,89.05 269.40,87.72 269.80,86.27 270.20,85.19 270.60,84.67 271.00,84.15 271.40,84.09 271.80,84.20 272.20,84.26 272.60,84.86 273.00,85.24 273.40,86.11 273.80,86.92 274.20,88.09 274.60,89.49 275.00,91.15 275.40,93.21 275.80,95.03 276.20,96.66 276.60,98.39 277.00,100.03 277.40,101.32 277.80,102.42 278.20,103.21 278.60,104.32 279.00,105.04 279.40,105.65 279.80,105.69 280.20,106.08 280.60,106.65 281.00,106.67 281.40,106.96 281.80,107.02 282.20,106.97 282.60,107.00 283.00,107.05 283.40,107.21 283.80,107.06 284.20,107.15 284.60,106.99 285.00,107.14 285.40,107.11 285.80,107.16 286.20,107.21 286.60,106.94 287.00,107.25 287.40,107.13 287.80,107.01 288.20,107.08 288.60,106.96 289.00,107.00 289.40,107.22 289.80,107.17 290.20,107.23 290.60,106.98 291.00,106.96 291.40,107.05 291.80,107.08 292.20,107.15 292.60,106.99 293.00,107.14 293.40,107.07 293.80,106.96 294.20,107.12 294.60,106.85 295.00,107.02 295.40,106.86 295.80,106.80 296.20,106.93 296.60,106.93 297.00,106.95 297.40,106.85 297.80,107.03 298.20,106.96 298.60,106.73 299.00,106.66 299.40,106.98 299.80,106.77 300.20,106.66 300.60,106.67 301.00,106.84 301.40,106.64 301.80,106.70 302.20,106.80 302.60,106.67 303.00,106.76 303.40,106.85 303.80,106.79 304.20,106.72 304.60,106.70 305.00,106.58 305.40,106.69 305.80,106.68 306.20,106.64 306.60,106.60 307.00,106.68 307.40,106.47 307.80,106.64 308.20,106.72 308.60,106.38 309.00,106.44 309.40,106.69 309.80,106.36 310.20,106.61 310.60,106.51 311.00,106.32 311.40,106.51 311.80,106.28 312.20,106.56 312.60,106.36 313.00,106.56 313.40,106.54 313.80,106.27 314.20,106.35 314.60,106.25 315.00,106.45 315.40,106.21 315.80,106.19 316.20,106.19 316.60,106.44 317.00,106.22 317.40,106.23 317.80,106.27 318.20,106.29 318.60,106.23 319.00,106.41 319.40,106.19 319.80,106.22 320.20,106.35 320.60,106.12 321.00,106.09 321.40,106.31" fill="none" stroke="#ff10ff" stroke-width="1.15" stroke-linejoin="round" />
<polyline points="234.60,111.90 235.10,112.18 235.60,112.13 236.10,111.90 236.60,111.87 237.10,111.74 237.60,112.12 238.10,111.90 238.60,111.84 239.10,111.74 239.60,111.76 240.10,112.07 240.60,111.69 241.10,111.90 241.60,111.92 242.10,111.86 242.60,111.84 243.10,111.78 243.60,111.67 244.10,111.97 244.60,112.00 245.10,111.82 245.60,111.65 246.10,111.97 246.60,111.61 247.10,111.58 247.60,111.80 248.10,111.89 248.60,111.75 249.10,111.51 249.60,111.93 250.10,111.50 250.60,111.58 251.10,111.89 251.60,111.78 252.10,111.75 252.60,111.39 253.10,111.76 253.60,111.52 254.10,111.31 254.60,111.68 255.10,111.73 255.60,111.27 256.10,111.46 256.60,111.66 257.10,111.35 257.60,111.32 258.10,111.53 258.60,111.34 259.10,111.60 259.60,111.50 260.10,111.48 260.60,111.37 261.10,111.08 261.60,111.30 262.10,111.20 262.60,111.11 263.10,111.09 263.60,110.88 264.10,110.72 264.60,110.94 265.10,110.50 265.60,110.14 266.10,110.30 266.60,109.73 267.10,109.41 267.60,108.79 268.10,108.20 268.60,107.77 269.10,107.50 269.60,106.73 270.10,106.63 270.60,105.99 271.10,106.08 271.60,105.64 272.10,105.81 272.60,105.79 273.10,106.02 273.60,106.50 274.10,106.78 274.60,107.26 275.10,107.52 275.60,107.99 276.10,108.40 276.60,109.08 277.10,109.02 277.60,109.51 278.10,110.00 278.60,110.09 279.10,110.12 279.60,110.65 280.10,110.33 280.60,110.44 281.10,110.45 281.60,110.72 282.10,110.97 282.60,110.71 283.10,110.74 283.60,111.01 284.10,110.66 284.60,110.64 285.10,110.98 285.60,110.69 286.10,110.92 286.60,110.73 287.10,110.96 287.60,111.09 288.10,110.89 288.60,110.80 289.10,110.97 289.60,111.01 290.10,110.69 290.60,110.78 291.10,110.84 291.60,110.90 292.10,110.78 292.60,110.97 293.10,110.76 293.60,111.08 294.10,110.80 294.60,110.73 295.10,110.65 295.60,110.67 296.10,110.70 296.60,111.03 297.10,110.79 297.60,110.79 298.10,111.04 298.60,111.04 299.10,110.93 299.60,110.66 300.10,110.69 300.60,110.77 301.10,110.64 301.60,110.68 302.10,110.60 302.60,110.61 303.10,110.85 303.60,110.77 304.10,110.68 304.60,110.69 305.10,110.75 305.60,110.78 306.10,110.44 306.60,110.84 307.10,110.64 307.60,110.57 308.10,110.87 308.60,110.76 309.10,110.54 309.60,110.37 310.10,110.57 310.60,110.56 311.10,110.52 311.60,110.37 312.10,110.60 312.60,110.43 313.10,110.68 313.60,110.55 314.10,110.42 314.60,110.68 315.10,110.48 315.60,110.29 316.10,110.38 316.60,110.26 317.10,110.44 317.60,110.67 318.10,110.67 318.60,110.52 319.10,110.26 319.60,110.30 320.10,110.27 320.60,110.34 321.10,110.47" fill="none" stroke="#1e1eff" stroke-width="1.15" stroke-linejoin="round" />
<polyline points="234.60,119.56 235.10,119.79 235.60,119.76 236.10,119.87 236.60,119.95 237.10,119.73 237.60,119.83 238.10,119.67 238.60,119.76 239.10,119.84 239.60,119.55 240.10,119.78 240.60,119.77 241.10,119.61 241.60,119.64 242.10,119.92 242.60,119.68 243.10,119.60 243.60,119.65 244.10,119.76 244.60,119.70 245.10,119.67 245.60,119.66 246.10,119.60 246.60,119.74 247.10,119.79 247.60,119.53 248.10,119.78 248.60,119.63 249.10,119.96 249.60,119.94 250.10,119.53 250.60,119.81 251.10,119.63 251.60,119.51 252.10,119.89 252.60,119.90 253.10,119.84 253.60,119.76 254.10,119.93 254.60,119.71 255.10,119.76 255.60,119.75 256.10,119.85 256.60,119.84 257.10,119.56 257.60,119.50 258.10,119.66 258.60,119.68 259.10,119.55 259.60,119.80 260.10,119.78 260.60,119.70 261.10,119.61 261.60,119.68 262.10,119.42 262.60,119.72 263.10,119.36 263.60,119.73 264.10,119.57 264.60,119.37 265.10,119.29 265.60,119.44 266.10,119.30 266.60,119.33 267.10,118.91 267.60,119.14 268.10,118.73 268.60,118.50 269.10,118.39 269.60,118.03 270.10,117.65 270.60,117.26 271.10,117.05 271.60,116.58 272.10,116.48 272.60,116.63 273.10,116.21 273.60,116.21 274.10,116.66 274.60,116.55 275.10,116.80 275.60,117.04 276.10,117.34 276.60,117.39 277.10,117.88 277.60,117.74 278.10,118.40 278.60,118.35 279.10,118.71 279.60,118.72 280.10,119.08 280.60,119.02 281.10,119.23 281.60,119.16 282.10,119.48 282.60,119.50 283.10,119.25 283.60,119.55 284.10,119.66 284.60,119.33 285.10,119.31 285.60,119.69 286.10,119.72 286.60,119.30 287.10,119.63 287.60,119.71 288.10,119.38 288.60,119.64 289.10,119.40 289.60,119.65 290.10,119.51 290.60,119.50 291.10,119.32 291.60,119.59 292.10,119.61 292.60,119.41 293.10,119.28 293.60,119.31 294.10,119.39 294.60,119.76 295.10,119.63 295.60,119.71 296.10,119.63 296.60,119.32 297.10,119.45 297.60,119.73 298.10,119.68 298.60,119.74 299.10,119.66 299.60,119.60 300.10,119.63 300.60,119.70 301.10,119.45 301.60,119.25 302.10,119.39 302.60,119.24 303.10,119.37 303.60,119.52 304.10,119.36 304.60,119.35 305.10,119.27 305.60,119.40 306.10,119.48 306.60,119.51 307.10,119.69 307.60,119.25 308.10,119.34 308.60,119.25 309.10,119.67 309.60,119.52 310.10,119.53 310.60,119.60 311.10,119.20 311.60,119.64 312.10,119.36 312.60,119.50 313.10,119.39 313.60,119.56 314.10,119.33 314.60,119.32 315.10,119.30 315.60,119.54 316.10,119.40 316.60,119.25 317.10,119.35 317.60,119.45 318.10,119.35 318.60,119.46 319.10,119.58 319.60,119.48 320.10,119.55 320.60,119.30 321.10,119.58" fill="none" stroke="#ff2020" stroke-width="1.15" stroke-linejoin="round" />
<polyline points="234.60,128.31 235.10,128.10 235.60,127.84 236.10,127.87 236.60,128.20 237.10,128.24 237.60,128.17 238.10,128.05 238.60,128.06 239.10,127.84 239.60,128.08 240.10,128.27 240.60,127.87 241.10,128.07 241.60,128.18 242.10,128.07 242.60,127.92 243.10,127.85 243.60,128.09 244.10,128.19 244.60,128.15 245.10,127.91 245.60,128.08 246.10,128.10 246.60,127.88 247.10,128.06 247.60,127.87 248.10,127.77 248.60,127.67 249.10,128.02 249.60,128.03 250.10,127.67 250.60,127.67 251.10,127.79 251.60,127.73 252.10,127.99 252.60,127.71 253.10,127.90 253.60,127.88 254.10,127.77 254.60,128.02 255.10,127.80 255.60,127.83 256.10,127.90 256.60,127.77 257.10,127.65 257.60,128.03 258.10,127.92 258.60,127.81 259.10,127.78 259.60,127.83 260.10,127.67 260.60,127.55 261.10,127.78 261.60,127.95 262.10,127.54 262.60,127.97 263.10,127.66 263.60,127.96 264.10,127.84 264.60,127.58 265.10,127.53 265.60,127.85 266.10,127.87 266.60,127.76 267.10,127.62 267.60,127.57 268.10,127.66 268.60,127.66 269.10,127.63 269.60,127.34 270.10,127.59 270.60,127.63 271.10,127.44 271.60,127.15 272.10,127.24 272.60,127.48 273.10,127.37 273.60,127.63 274.10,127.50 274.60,127.55 275.10,127.28 275.60,127.48 276.10,127.59 276.60,127.70 277.10,127.70 277.60,127.39 278.10,127.51 278.60,127.75 279.10,127.31 279.60,127.30 280.10,127.35 280.60,127.62 281.10,127.41 281.60,127.60 282.10,127.65 282.60,127.64 283.10,127.25 283.60,127.57 284.10,127.62 284.60,127.56 285.10,127.64 285.60,127.61 286.10,127.50 286.60,127.62 287.10,127.45 287.60,127.23 288.10,127.31 288.60,127.63 289.10,127.32 289.60,127.38 290.10,127.58 290.60,127.48 291.10,127.52 291.60,127.36 292.10,127.37 292.60,127.15 293.10,127.20 293.60,127.18 294.10,127.36 294.60,127.35 295.10,127.11 295.60,127.39 296.10,127.12 296.60,127.25 297.10,127.07 297.60,127.28 298.10,127.11 298.60,127.50 299.10,127.21 299.60,127.44 300.10,127.24 300.60,127.17 301.10,127.42 301.60,127.13 302.10,127.25 302.60,127.30 303.10,127.47 303.60,127.32 304.10,126.99 304.60,127.19 305.10,127.43 305.60,127.37 306.10,127.12 306.60,127.00 307.10,127.06 307.60,127.30 308.10,127.00 308.60,127.35 309.10,127.03 309.60,127.24 310.10,127.23 310.60,127.00 311.10,127.13 311.60,127.18 312.10,127.00 312.60,127.12 313.10,127.16 313.60,127.32 314.10,126.98 314.60,126.92 315.10,127.08 315.60,127.12 316.10,127.06 316.60,127.26 317.10,126.90 317.60,127.05 318.10,127.02 318.60,126.88 319.10,127.00 319.60,126.99 320.10,126.95 320.60,127.14 321.10,127.24" fill="none" stroke="#1a1a1a" stroke-width="1.15" stroke-linejoin="round" />
<text x="346.00" y="11.70" font-size="14" text-anchor="start" fill="#000" style="font-weight:bold" >b</text>
<rect x="365.2" y="6.0" width="306.30" height="127.90" fill="none" stroke="#262626" stroke-width="1.4"/>
<line x1="365.20" y1="133.90" x2="671.50" y2="133.90" stroke="#1a1a1a" stroke-width="1.6" />
<path d="M382.50,132.95 L382.75,132.59 L383.00,132.12 L383.25,131.52 L383.50,130.77 L383.75,129.83 L384.00,128.68 L384.25,127.27 L384.50,125.57 L384.75,123.55 L385.00,121.17 L385.25,118.41 L385.50,115.24 L385.75,111.65 L386.00,107.64 L386.25,103.22 L386.50,98.42 L386.75,93.28 L387.00,87.86 L387.25,82.23 L387.50,76.50 L387.75,70.77 L388.00,65.16 L388.25,59.80 L388.50,54.82 L388.75,50.34 L389.00,46.49 L389.25,43.37 L389.50,41.08 L389.75,39.67 L390.00,39.20 L390.25,39.67 L390.50,41.08 L390.75,43.37 L391.00,46.49 L391.25,50.34 L391.50,54.82 L391.75,59.80 L392.00,65.16 L392.25,70.77 L392.50,76.50 L392.75,82.23 L393.00,87.86 L393.25,93.28 L393.50,98.42 L393.75,103.22 L394.00,107.64 L394.25,111.65 L394.50,115.24 L394.75,118.41 L395.00,121.17 L395.25,123.55 L395.50,125.57 L395.75,127.27 L396.00,128.68 L396.25,129.83 L396.50,130.77 L396.75,131.52 L397.00,132.12 L397.25,132.59 L397.50,132.95 Z" fill="#6c6c6c" fill-opacity="1"/>
<path d="M448.00,132.96 L448.25,132.60 L448.50,132.13 L448.75,131.54 L449.00,130.80 L449.25,129.87 L449.50,128.72 L449.75,127.33 L450.00,125.64 L450.25,123.64 L450.50,121.28 L450.75,118.54 L451.00,115.40 L451.25,111.84 L451.50,107.86 L451.75,103.48 L452.00,98.72 L452.25,93.62 L452.50,88.25 L452.75,82.67 L453.00,76.99 L453.25,71.30 L453.50,65.74 L453.75,60.43 L454.00,55.48 L454.25,51.05 L454.50,47.23 L454.75,44.14 L455.00,41.86 L455.25,40.47 L455.50,40.00 L455.75,40.47 L456.00,41.86 L456.25,44.14 L456.50,47.23 L456.75,51.05 L457.00,55.48 L457.25,60.43 L457.50,65.74 L457.75,71.30 L458.00,76.99 L458.25,82.67 L458.50,88.25 L458.75,93.62 L459.00,98.72 L459.25,103.48 L459.50,107.86 L459.75,111.84 L460.00,115.40 L460.25,118.54 L460.50,121.28 L460.75,123.64 L461.00,125.64 L461.25,127.33 L461.50,128.72 L461.75,129.87 L462.00,130.80 L462.25,131.54 L462.50,132.13 L462.75,132.60 L463.00,132.96 Z" fill="#ff8080" fill-opacity="1"/>
<path d="M479.20,132.89 L479.45,132.54 L479.70,132.10 L479.95,131.54 L480.20,130.85 L480.45,130.00 L480.70,128.96 L480.95,127.71 L481.20,126.21 L481.45,124.44 L481.70,122.36 L481.95,119.96 L482.20,117.20 L482.45,114.08 L482.70,110.57 L482.95,106.69 L483.20,102.43 L483.45,97.82 L483.70,92.89 L483.95,87.69 L484.20,82.27 L484.45,76.71 L484.70,71.10 L484.95,65.53 L485.20,60.10 L485.45,54.92 L485.70,50.10 L485.95,45.75 L486.20,41.96 L486.45,38.83 L486.70,36.44 L486.95,34.84 L487.20,34.07 L487.45,34.15 L487.70,35.09 L487.95,36.86 L488.20,39.40 L488.45,42.67 L488.70,46.58 L488.95,51.03 L489.20,55.93 L489.45,61.17 L489.70,66.64 L489.95,72.22 L490.20,77.83 L490.45,83.37 L490.70,88.75 L490.95,93.90 L491.20,98.77 L491.45,103.31 L491.70,107.50 L491.95,111.30 L492.20,114.73 L492.45,117.78 L492.70,120.47 L492.95,122.80 L493.20,124.81 L493.45,126.53 L493.70,127.98 L493.95,129.18 L494.20,130.18 L494.45,131.00 L494.70,131.66 L494.95,132.19 L495.20,132.62 Z" fill="#a6ffa0" fill-opacity="1"/>
<path d="M508.80,132.92 L509.05,132.57 L509.30,132.12 L509.55,131.54 L509.80,130.83 L510.05,129.94 L510.30,128.85 L510.55,127.53 L510.80,125.94 L511.05,124.06 L511.30,121.85 L511.55,119.29 L511.80,116.35 L512.05,113.02 L512.30,109.29 L512.55,105.17 L512.80,100.66 L513.05,95.81 L513.30,90.65 L513.55,85.25 L513.80,79.68 L514.05,74.04 L514.30,68.41 L514.55,62.92 L514.80,57.67 L515.05,52.79 L515.30,48.40 L515.55,44.60 L515.80,41.48 L516.05,39.15 L516.30,37.64 L516.55,37.02 L516.80,37.29 L517.05,38.44 L517.30,40.45 L517.55,43.26 L517.80,46.80 L518.05,50.97 L518.30,55.67 L518.55,60.78 L518.80,66.19 L519.05,71.78 L519.30,77.43 L519.55,83.04 L519.80,88.52 L520.05,93.78 L520.30,98.76 L520.55,103.41 L520.80,107.69 L521.05,111.58 L521.30,115.07 L521.55,118.16 L521.80,120.87 L522.05,123.22 L522.30,125.23 L522.55,126.93 L522.80,128.35 L523.05,129.53 L523.30,130.49 L523.55,131.28 L523.80,131.90 L524.05,132.40 L524.30,132.79 Z" fill="#8080ff" fill-opacity="1"/>
<path d="M553.80,132.88 L554.05,132.51 L554.30,132.04 L554.55,131.44 L554.80,130.70 L555.05,129.77 L555.30,128.64 L555.55,127.26 L555.80,125.61 L556.05,123.65 L556.30,121.35 L556.55,118.68 L556.80,115.63 L557.05,112.16 L557.30,108.27 L557.55,103.98 L557.80,99.29 L558.05,94.24 L558.30,88.87 L558.55,83.24 L558.80,77.44 L559.05,71.56 L559.30,65.70 L559.55,59.98 L559.80,54.52 L560.05,49.44 L560.30,44.87 L560.55,40.91 L560.80,37.67 L561.05,35.23 L561.30,33.67 L561.55,33.02 L561.80,33.30 L562.05,34.50 L562.30,36.59 L562.55,39.52 L562.80,43.20 L563.05,47.55 L563.30,52.44 L563.55,57.76 L563.80,63.39 L564.05,69.21 L564.30,75.10 L564.55,80.94 L564.80,86.64 L565.05,92.12 L565.30,97.31 L565.55,102.15 L565.80,106.60 L566.05,110.65 L566.30,114.29 L566.55,117.51 L566.80,120.33 L567.05,122.77 L567.30,124.87 L567.55,126.64 L567.80,128.12 L568.05,129.34 L568.30,130.35 L568.55,131.16 L568.80,131.82 L569.05,132.33 L569.30,132.74 Z" fill="#8cfffb" fill-opacity="1"/>
<path d="M600.20,132.90 L600.45,132.53 L600.70,132.04 L600.95,131.42 L601.20,130.64 L601.45,129.66 L601.70,128.46 L601.95,126.99 L602.20,125.22 L602.45,123.12 L602.70,120.64 L602.95,117.77 L603.20,114.47 L603.45,110.73 L603.70,106.56 L603.95,101.96 L604.20,96.96 L604.45,91.60 L604.70,85.96 L604.95,80.10 L605.20,74.14 L605.45,68.17 L605.70,62.33 L605.95,56.75 L606.20,51.56 L606.45,46.90 L606.70,42.89 L606.95,39.64 L607.20,37.25 L607.45,35.79 L607.70,35.30 L607.95,35.79 L608.20,37.25 L608.45,39.64 L608.70,42.89 L608.95,46.90 L609.20,51.56 L609.45,56.75 L609.70,62.33 L609.95,68.17 L610.20,74.14 L610.45,80.10 L610.70,85.96 L610.95,91.60 L611.20,96.96 L611.45,101.96 L611.70,106.56 L611.95,110.73 L612.20,114.47 L612.45,117.77 L612.70,120.64 L612.95,123.12 L613.20,125.22 L613.45,126.99 L613.70,128.46 L613.95,129.66 L614.20,130.64 L614.45,131.42 L614.70,132.04 L614.95,132.53 L615.20,132.90 Z" fill="#ff80ff" fill-opacity="1"/>
<path d="M618.70,132.93 L618.95,132.52 L619.20,131.99 L619.45,131.30 L619.70,130.41 L619.95,129.28 L620.20,127.87 L620.45,126.13 L620.70,124.02 L620.95,121.50 L621.20,118.52 L621.45,115.05 L621.70,111.08 L621.95,106.61 L622.20,101.64 L622.45,96.22 L622.70,90.42 L622.95,84.31 L623.20,78.01 L623.45,71.66 L623.70,65.40 L623.95,59.39 L624.20,53.82 L624.45,48.84 L624.70,44.61 L624.95,41.28 L625.20,38.95 L625.45,37.71 L625.70,37.59 L625.95,38.61 L626.20,40.73 L626.45,43.87 L626.70,47.93 L626.95,52.77 L627.20,58.24 L627.45,64.17 L627.70,70.39 L627.95,76.74 L628.20,83.06 L628.45,89.22 L628.70,95.09 L628.95,100.59 L629.20,105.65 L629.45,110.23 L629.70,114.30 L629.95,117.86 L630.20,120.94 L630.45,123.55 L630.70,125.74 L630.95,127.55 L631.20,129.02 L631.45,130.20 L631.70,131.14 L631.95,131.87 L632.20,132.43 L632.45,132.86 Z" fill="#ffff80" fill-opacity="1"/>
<path d="M627.60,132.83 L627.85,132.32 L628.10,131.61 L628.35,130.65 L628.60,129.39 L628.85,127.74 L629.10,125.65 L629.35,123.02 L629.60,119.79 L629.85,115.90 L630.10,111.29 L630.35,105.96 L630.60,99.91 L630.85,93.20 L631.10,85.93 L631.35,78.23 L631.60,70.31 L631.85,62.40 L632.10,54.74 L632.35,47.63 L632.60,41.34 L632.85,36.13 L633.10,32.23 L633.35,29.82 L633.60,29.00 L633.85,29.82 L634.10,32.23 L634.35,36.13 L634.60,41.34 L634.85,47.63 L635.10,54.74 L635.35,62.40 L635.60,70.31 L635.85,78.23 L636.10,85.93 L636.35,93.20 L636.60,99.91 L636.85,105.96 L637.10,111.29 L637.35,115.90 L637.60,119.79 L637.85,123.02 L638.10,125.65 L638.35,127.74 L638.60,129.39 L638.85,130.65 L639.10,131.61 L639.35,132.32 L639.60,132.83 Z" fill="#9c9c00" fill-opacity="1"/>
<path d="M631.90,132.82 L632.15,132.47 L632.40,132.04 L632.65,131.51 L632.90,130.86 L633.15,130.07 L633.40,129.12 L633.65,127.97 L633.90,126.62 L634.15,125.02 L634.40,123.17 L634.65,121.02 L634.90,118.57 L635.15,115.79 L635.40,112.66 L635.65,109.19 L635.90,105.36 L636.15,101.19 L636.40,96.69 L636.65,91.88 L636.90,86.81 L637.15,81.52 L637.40,76.06 L637.65,70.52 L637.90,64.96 L638.15,59.46 L638.40,54.13 L638.65,49.05 L638.90,44.31 L639.15,40.01 L639.40,36.24 L639.65,33.06 L639.90,30.56 L640.15,28.77 L640.40,27.75 L640.65,27.52 L640.90,28.07 L641.15,29.40 L641.40,31.48 L641.65,34.26 L641.90,37.68 L642.15,41.68 L642.40,46.16 L642.65,51.05 L642.90,56.24 L643.15,61.65 L643.40,67.18 L643.65,72.74 L643.90,78.26 L644.15,83.66 L644.40,88.87 L644.65,93.84 L644.90,98.52 L645.15,102.90 L645.40,106.93 L645.65,110.62 L645.90,113.95 L646.15,116.94 L646.40,119.59 L646.65,121.91 L646.90,123.94 L647.15,125.69 L647.40,127.19 L647.65,128.45 L647.90,129.52 L648.15,130.41 L648.40,131.14 L648.65,131.74 L648.90,132.23 L649.15,132.62 Z" fill="#ffb478" fill-opacity="0.75"/>
<line x1="365.20" y1="133.90" x2="365.20" y2="136.70" stroke="#1a1a1a" stroke-width="1.2" />
<line x1="395.83" y1="133.90" x2="395.83" y2="135.70" stroke="#1a1a1a" stroke-width="1.2" />
<line x1="426.46" y1="133.90" x2="426.46" y2="136.70" stroke="#1a1a1a" stroke-width="1.2" />
<line x1="457.09" y1="133.90" x2="457.09" y2="135.70" stroke="#1a1a1a" stroke-width="1.2" />
<line x1="487.72" y1="133.90" x2="487.72" y2="136.70" stroke="#1a1a1a" stroke-width="1.2" />
<line x1="518.35" y1="133.90" x2="518.35" y2="135.70" stroke="#1a1a1a" stroke-width="1.2" />
<line x1="548.98" y1="133.90" x2="548.98" y2="136.70" stroke="#1a1a1a" stroke-width="1.2" />
<line x1="579.61" y1="133.90" x2="579.61" y2="135.70" stroke="#1a1a1a" stroke-width="1.2" />
<line x1="610.24" y1="133.90" x2="610.24" y2="136.70" stroke="#1a1a1a" stroke-width="1.2" />
<line x1="640.87" y1="133.90" x2="640.87" y2="135.70" stroke="#1a1a1a" stroke-width="1.2" />
<line x1="671.50" y1="133.90" x2="671.50" y2="136.70" stroke="#1a1a1a" stroke-width="1.2" />
<text x="365.20" y="147.80" font-size="11.1" text-anchor="middle" fill="#111" style="" >1000</text>
<text x="426.46" y="147.80" font-size="11.1" text-anchor="middle" fill="#111" style="" >500</text>
<text x="487.72" y="147.80" font-size="11.1" text-anchor="middle" fill="#111" style="" >0</text>
<text x="548.98" y="147.80" font-size="11.1" text-anchor="middle" fill="#111" style="" >-500</text>
<text x="610.24" y="147.80" font-size="11.1" text-anchor="middle" fill="#111" style="" >-1000</text>
<text x="671.50" y="147.80" font-size="11.1" text-anchor="middle" fill="#111" style="" >-1500</text>
<text x="491.0" y="163.5" font-size="12" fill="#111"><tspan style="font-family:'Liberation Serif',serif;font-style:italic" font-size="12.6">V</tspan><tspan style="font-family:'Liberation Serif',serif" font-size="10.2" dx="-1.7" dy="3.1">sp</tspan><tspan x="511.0" dy="-3.1" font-size="12.3">(mV)</tspan></text>
<text transform="translate(352.6,73.4) rotate(-90)" font-size="13" text-anchor="middle" fill="#111">KPFM Intensity</text>
<text x="382.4" y="31.4" font-size="11.3" fill="#111"><tspan fill="#ff1a1a" style="font-style:italic">k</tspan><tspan fill="#ff1a1a"> = </tspan>0</text>
<text x="454.00" y="31.30" font-size="11.3" text-anchor="middle" fill="#111" style="" >0.05</text>
<text x="488.00" y="31.30" font-size="11.3" text-anchor="middle" fill="#111" style="" >0.10</text>
<text x="521.70" y="31.30" font-size="11.3" text-anchor="middle" fill="#111" style="" >0.15</text>
<text x="562.50" y="31.30" font-size="11.3" text-anchor="middle" fill="#111" style="" >0.20</text>
<text x="604.50" y="31.30" font-size="11.3" text-anchor="middle" fill="#111" style="" >0.40</text>
<text x="609.00" y="16.10" font-size="11.3" text-anchor="middle" fill="#111" style="" >0.60</text>
<text x="637.40" y="16.10" font-size="11.3" text-anchor="middle" fill="#111" style="" >0.80</text>
<text x="643.50" y="30.00" font-size="11.3" text-anchor="middle" fill="#111" style="" >1</text>
<line x1="616.00" y1="16.80" x2="623.70" y2="34.40" stroke="#111" stroke-width="1.3" />
<polygon points="620.00,31.43 623.70,34.40 624.03,29.67" fill="#111"/>
<line x1="633.70" y1="17.80" x2="633.70" y2="29.40" stroke="#111" stroke-width="1.3" />
<polygon points="631.50,25.20 633.70,29.40 635.90,25.20" fill="#111"/>
<text x="1.00" y="206.60" font-size="14" text-anchor="start" fill="#000" style="font-weight:bold" >c</text>
<rect x="41.1" y="202.9" width="170.65" height="127.4" fill="none" stroke="#111" stroke-width="1.6"/>
<line x1="41.10" y1="202.90" x2="38.60" y2="202.90" stroke="#1a1a1a" stroke-width="1" />
<text x="36.40" y="206.60" font-size="11.2" text-anchor="end" fill="#111" style="" >6.5</text>
<line x1="41.10" y1="215.64" x2="39.60" y2="215.64" stroke="#1a1a1a" stroke-width="1" />
<line x1="41.10" y1="228.38" x2="38.60" y2="228.38" stroke="#1a1a1a" stroke-width="1" />
<text x="36.40" y="232.08" font-size="11.2" text-anchor="end" fill="#111" style="" >6.0</text>
<line x1="41.10" y1="241.12" x2="39.60" y2="241.12" stroke="#1a1a1a" stroke-width="1" />
<line x1="41.10" y1="253.86" x2="38.60" y2="253.86" stroke="#1a1a1a" stroke-width="1" />
<text x="36.40" y="257.56" font-size="11.2" text-anchor="end" fill="#111" style="" >5.5</text>
<line x1="41.10" y1="266.60" x2="39.60" y2="266.60" stroke="#1a1a1a" stroke-width="1" />
<line x1="41.10" y1="279.34" x2="38.60" y2="279.34" stroke="#1a1a1a" stroke-width="1" />
<text x="36.40" y="283.04" font-size="11.2" text-anchor="end" fill="#111" style="" >5.0</text>
<line x1="41.10" y1="292.08" x2="39.60" y2="292.08" stroke="#1a1a1a" stroke-width="1" />
<line x1="41.10" y1="304.82" x2="38.60" y2="304.82" stroke="#1a1a1a" stroke-width="1" />
<text x="36.40" y="308.52" font-size="11.2" text-anchor="end" fill="#111" style="" >4.5</text>
<line x1="41.10" y1="317.56" x2="39.60" y2="317.56" stroke="#1a1a1a" stroke-width="1" />
<line x1="41.10" y1="330.30" x2="38.60" y2="330.30" stroke="#1a1a1a" stroke-width="1" />
<text x="36.40" y="334.00" font-size="11.2" text-anchor="end" fill="#111" style="" >4.0</text>
<line x1="49.30" y1="330.30" x2="49.30" y2="332.80" stroke="#1a1a1a" stroke-width="1" />
<text x="49.30" y="343.20" font-size="11.2" text-anchor="middle" fill="#111" style="" >0.0</text>
<line x1="64.75" y1="330.30" x2="64.75" y2="331.80" stroke="#1a1a1a" stroke-width="1" />
<line x1="80.19" y1="330.30" x2="80.19" y2="332.80" stroke="#1a1a1a" stroke-width="1" />
<text x="80.19" y="343.20" font-size="11.2" text-anchor="middle" fill="#111" style="" >0.2</text>
<line x1="95.63" y1="330.30" x2="95.63" y2="331.80" stroke="#1a1a1a" stroke-width="1" />
<line x1="111.08" y1="330.30" x2="111.08" y2="332.80" stroke="#1a1a1a" stroke-width="1" />
<text x="111.08" y="343.20" font-size="11.2" text-anchor="middle" fill="#111" style="" >0.4</text>
<line x1="126.52" y1="330.30" x2="126.52" y2="331.80" stroke="#1a1a1a" stroke-width="1" />
<line x1="141.97" y1="330.30" x2="141.97" y2="332.80" stroke="#1a1a1a" stroke-width="1" />
<text x="141.97" y="343.20" font-size="11.2" text-anchor="middle" fill="#111" style="" >0.6</text>
<line x1="157.42" y1="330.30" x2="157.42" y2="331.80" stroke="#1a1a1a" stroke-width="1" />
<line x1="172.86" y1="330.30" x2="172.86" y2="332.80" stroke="#1a1a1a" stroke-width="1" />
<text x="172.86" y="343.20" font-size="11.2" text-anchor="middle" fill="#111" style="" >0.8</text>
<line x1="188.31" y1="330.30" x2="188.31" y2="331.80" stroke="#1a1a1a" stroke-width="1" />
<line x1="203.75" y1="330.30" x2="203.75" y2="332.80" stroke="#1a1a1a" stroke-width="1" />
<text x="203.75" y="343.20" font-size="11.2" text-anchor="middle" fill="#111" style="" >1.0</text>
<text x="122.6" y="355.3" font-size="12" fill="#111" style="font-style:italic">k</text>
<text transform="translate(11.6,271.0) rotate(-90)" font-size="12.6" text-anchor="middle" fill="#111"><tspan style="font-style:italic" font-size="13.8">Φ</tspan> (eV)</text>
<defs><radialGradient id="pg" cx="0.35" cy="0.4" r="0.7"><stop offset="0" stop-color="#b070ff"/><stop offset="0.6" stop-color="#8010ff"/><stop offset="1" stop-color="#7000e8"/></radialGradient><radialGradient id="drop" cx="0.5" cy="0.5" r="0.5"><stop offset="0" stop-color="#f4fbfe"/><stop offset="0.55" stop-color="#a9dcf3"/><stop offset="1" stop-color="#58bdea"/></radialGradient><radialGradient id="dropE" cx="0.5" cy="0.5" r="0.5"><stop offset="0" stop-color="#f4fbfe"/><stop offset="0.55" stop-color="#9fd6f1"/><stop offset="1" stop-color="#3fb2e6"/></radialGradient></defs>
<circle cx="49.3" cy="319.4" r="2.25" fill="url(#pg)"/>
<circle cx="57" cy="291.7" r="2.25" fill="url(#pg)"/>
<circle cx="64.7" cy="278.3" r="2.25" fill="url(#pg)"/>
<circle cx="72.6" cy="264.2" r="2.25" fill="url(#pg)"/>
<circle cx="80" cy="249.5" r="2.25" fill="url(#pg)"/>
<circle cx="111" cy="228" r="2.25" fill="url(#pg)"/>
<circle cx="142" cy="222.5" r="2.25" fill="url(#pg)"/>
<circle cx="173" cy="217.5" r="2.25" fill="url(#pg)"/>
<circle cx="204" cy="215.5" r="2.25" fill="url(#pg)"/>
<text x="252.00" y="207.40" font-size="14" text-anchor="start" fill="#000" style="font-weight:bold" >d</text>
<circle cx="306.3" cy="214.3" r="12.6" fill="url(#drop)"/>
<line x1="308.20" y1="232.50" x2="308.20" y2="252.20" stroke="#111" stroke-width="1.5" />
<polygon points="305.60,247.20 308.20,252.20 310.80,247.20" fill="#111"/>
<text x="310.20" y="242.80" font-size="8.3" text-anchor="start" fill="#111" style="" >Drop</text>
<g transform="translate(298.9,275.7) rotate(21.5)"><rect x="-27.5" y="-7" width="55" height="14" fill="#c3c3c3"/></g>
<g transform="translate(307.9,265.7) rotate(22.5)"><ellipse rx="22.6" ry="8.2" fill="url(#dropE)"/></g>
<g transform="translate(297,262.2) rotate(28)"><circle r="4.2" fill="none" stroke="#e8141c" stroke-width="1.1"/><line x1="-2.4" y1="0" x2="2.4" y2="0" stroke="#e8141c" stroke-width="1.6"/></g>
<g transform="translate(311.9,268.8) rotate(28)"><circle r="4.2" fill="none" stroke="#e8141c" stroke-width="1.1"/><line x1="-2.4" y1="0" x2="2.4" y2="0" stroke="#e8141c" stroke-width="1.6"/></g>
<g transform="translate(293.9,271.4) rotate(66)"><circle r="4.4" fill="none" stroke="#111" stroke-width="1.1"/><line x1="-2.8" y1="0" x2="2.8" y2="0" stroke="#111" stroke-width="1.8"/><line x1="0" y1="-2.8" x2="0" y2="2.8" stroke="#111" stroke-width="1.8"/></g>
<g transform="translate(308.1,278.1) rotate(66)"><circle r="4.4" fill="none" stroke="#111" stroke-width="1.1"/><line x1="-2.8" y1="0" x2="2.8" y2="0" stroke="#111" stroke-width="1.8"/><line x1="0" y1="-2.8" x2="0" y2="2.8" stroke="#111" stroke-width="1.8"/></g>
<line x1="275.70" y1="272.20" x2="275.70" y2="281.20" stroke="#111" stroke-width="1.3" />
<line x1="270.90" y1="281.40" x2="280.60" y2="281.40" stroke="#111" stroke-width="1.3" />
<line x1="272.60" y1="284.00" x2="278.90" y2="284.00" stroke="#111" stroke-width="1.3" />
<line x1="274.20" y1="286.60" x2="277.40" y2="286.60" stroke="#111" stroke-width="1.3" />
<text transform="translate(336.0,253.1) rotate(-21.4)" font-size="8.4" fill="#111">Bounce</text>
<line x1="337.60" y1="258.40" x2="363.60" y2="248.20" stroke="#111" stroke-width="1.7" />
<polygon points="359.75,252.61 363.60,248.20 357.77,247.59" fill="#111"/>
<circle cx="389.2" cy="238.2" r="12.8" fill="url(#drop)"/>
<g transform="translate(383.4,235) rotate(0)"><circle r="4.2" fill="none" stroke="#e8141c" stroke-width="1.1"/><line x1="-2.4" y1="0" x2="2.4" y2="0" stroke="#e8141c" stroke-width="1.6"/></g>
<g transform="translate(393.8,241.5) rotate(0)"><circle r="4.2" fill="none" stroke="#e8141c" stroke-width="1.1"/><line x1="-2.4" y1="0" x2="2.4" y2="0" stroke="#e8141c" stroke-width="1.6"/></g>
<line x1="389.30" y1="261.30" x2="389.30" y2="291.40" stroke="#111" stroke-width="1.5" />
<polygon points="386.70,286.40 389.30,291.40 391.90,286.40" fill="#111"/>
<text x="392.20" y="278.60" font-size="8.3" text-anchor="start" fill="#111" style="" >Drop</text>
<rect x="286.2" y="313.4" width="45.5" height="36.7" rx="6" fill="#c6c6c6" stroke="#585858" stroke-width="1"/>
<circle cx="297.4" cy="323.6" r="2.4" fill="#5a5a5a"/>
<rect x="306.6" y="318.4" width="18.5" height="10.3" fill="#a9a596"/>
<circle cx="319.9" cy="324.1" r="2.2" fill="none" stroke="#e8141c" stroke-width="1.3"/>
<text x="310.60" y="339.20" font-size="8.5" text-anchor="middle" fill="#111" style="" >Coulomb</text>
<text x="310.60" y="349.00" font-size="8.5" text-anchor="middle" fill="#111" style="" >meter</text>
<rect x="331.3" y="338.3" width="37" height="4.2" fill="#7f7f7f"/>
<path d="M368.3,320.6 L368.3,345.8 A19.7,4 0 0 0 407.7,345.8 L407.7,320.6" fill="#c3c3c3" stroke="#3c3c3c" stroke-width="0.9"/>
<ellipse cx="388" cy="320.8" rx="19.7" ry="4.3" fill="#d9d9d9" stroke="#3c3c3c" stroke-width="0.9"/>
<circle cx="388.6" cy="310.8" r="12.3" fill="url(#drop)"/>
<g transform="translate(383,308) rotate(0)"><circle r="4.2" fill="none" stroke="#e8141c" stroke-width="1.1"/><line x1="-2.4" y1="0" x2="2.4" y2="0" stroke="#e8141c" stroke-width="1.6"/></g>
<g transform="translate(393,315) rotate(0)"><circle r="4.2" fill="none" stroke="#e8141c" stroke-width="1.1"/><line x1="-2.4" y1="0" x2="2.4" y2="0" stroke="#e8141c" stroke-width="1.6"/></g>
<text x="387.80" y="335.00" font-size="8.6" text-anchor="middle" fill="#111" style="" >Faraday</text>
<text x="387.80" y="345.40" font-size="8.6" text-anchor="middle" fill="#111" style="" >cup</text>
<text x="456.30" y="207.00" font-size="14" text-anchor="start" fill="#000" style="font-weight:bold" >e</text>
<rect x="500.7" y="199.8" width="170.40000000000003" height="123.94999999999999" fill="none" stroke="#111" stroke-width="1.6"/>
<line x1="500.70" y1="316.00" x2="499.20" y2="316.00" stroke="#1a1a1a" stroke-width="1.1" />
<line x1="500.70" y1="300.50" x2="498.20" y2="300.50" stroke="#1a1a1a" stroke-width="1.1" />
<text x="496.80" y="305.30" font-size="11.2" text-anchor="end" fill="#111" style="" >-1.0</text>
<line x1="500.70" y1="285.00" x2="499.20" y2="285.00" stroke="#1a1a1a" stroke-width="1.1" />
<line x1="500.70" y1="269.50" x2="498.20" y2="269.50" stroke="#1a1a1a" stroke-width="1.1" />
<text x="496.80" y="274.30" font-size="11.2" text-anchor="end" fill="#111" style="" >0.0</text>
<line x1="500.70" y1="254.00" x2="499.20" y2="254.00" stroke="#1a1a1a" stroke-width="1.1" />
<line x1="500.70" y1="238.50" x2="498.20" y2="238.50" stroke="#1a1a1a" stroke-width="1.1" />
<text x="496.80" y="243.30" font-size="11.2" text-anchor="end" fill="#111" style="" >1.0</text>
<line x1="500.70" y1="223.00" x2="499.20" y2="223.00" stroke="#1a1a1a" stroke-width="1.1" />
<line x1="500.70" y1="207.50" x2="498.20" y2="207.50" stroke="#1a1a1a" stroke-width="1.1" />
<text x="496.80" y="212.30" font-size="11.2" text-anchor="end" fill="#111" style="" >2.0</text>
<line x1="500.75" y1="323.75" x2="500.75" y2="326.25" stroke="#1a1a1a" stroke-width="1.1" />
<text x="500.75" y="336.80" font-size="11.2" text-anchor="middle" fill="#111" style="" >4.0</text>
<line x1="517.80" y1="323.75" x2="517.80" y2="325.25" stroke="#1a1a1a" stroke-width="1.1" />
<line x1="534.85" y1="323.75" x2="534.85" y2="326.25" stroke="#1a1a1a" stroke-width="1.1" />
<text x="534.85" y="336.80" font-size="11.2" text-anchor="middle" fill="#111" style="" >4.5</text>
<line x1="551.90" y1="323.75" x2="551.90" y2="325.25" stroke="#1a1a1a" stroke-width="1.1" />
<line x1="568.95" y1="323.75" x2="568.95" y2="326.25" stroke="#1a1a1a" stroke-width="1.1" />
<text x="568.95" y="336.80" font-size="11.2" text-anchor="middle" fill="#111" style="" >5.0</text>
<line x1="586.00" y1="323.75" x2="586.00" y2="325.25" stroke="#1a1a1a" stroke-width="1.1" />
<line x1="603.05" y1="323.75" x2="603.05" y2="326.25" stroke="#1a1a1a" stroke-width="1.1" />
<text x="603.05" y="336.80" font-size="11.2" text-anchor="middle" fill="#111" style="" >5.5</text>
<line x1="620.10" y1="323.75" x2="620.10" y2="325.25" stroke="#1a1a1a" stroke-width="1.1" />
<line x1="637.15" y1="323.75" x2="637.15" y2="326.25" stroke="#1a1a1a" stroke-width="1.1" />
<text x="637.15" y="336.80" font-size="11.2" text-anchor="middle" fill="#111" style="" >6.0</text>
<line x1="654.20" y1="323.75" x2="654.20" y2="325.25" stroke="#1a1a1a" stroke-width="1.1" />
<line x1="671.25" y1="323.75" x2="671.25" y2="326.25" stroke="#1a1a1a" stroke-width="1.1" />
<text x="671.25" y="336.80" font-size="11.2" text-anchor="middle" fill="#111" style="" >6.5</text>
<text transform="translate(474.6,260.7) rotate(-90)" font-size="13.2" text-anchor="middle" fill="#111">Q (nC)</text>
<text x="570" y="355.6" font-size="12.4" fill="#111"><tspan style="font-style:italic" font-size="13.4">Φ</tspan> (eV)</text>
<line x1="502.4" y1="269.4" x2="508.4" y2="269.4" stroke="#585858" stroke-width="1.2"/>
<line x1="508.4" y1="269.4" x2="575.5" y2="269.4" stroke="#585858" stroke-width="1.2" stroke-dasharray="3.2,3.1" stroke-dashoffset="-2.4"/>
<polyline points="505.9,266.0 502.3,269.4 505.9,272.8" fill="none" stroke="#585858" stroke-width="1.2"/>
<line x1="575.5" y1="273.4" x2="575.5" y2="322" stroke="#585858" stroke-width="1.2" stroke-dasharray="3.4,2.85"/>
<polyline points="572.9,318.6 575.5,322.2 578.1,318.6" fill="none" stroke="#585858" stroke-width="1.2"/>
<line x1="514.2" y1="312.0" x2="653.5" y2="216.7" stroke="#ff1c1c" stroke-width="1.5" stroke-dasharray="4.0,4.6" stroke-dashoffset="7.93"/>
<line x1="514" y1="306.4" x2="514" y2="314.7" stroke="#f08a36" stroke-width="1"/>
<line x1="512.2" y1="306.4" x2="515.8" y2="306.4" stroke="#f08a36" stroke-width="1"/>
<line x1="512.2" y1="314.7" x2="515.8" y2="314.7" stroke="#f08a36" stroke-width="1"/>
<circle cx="514" cy="310.2" r="1.7" fill="none" stroke="#f08a36" stroke-width="1.1"/>
<line x1="551.7" y1="281.3" x2="551.7" y2="285.3" stroke="#f08a36" stroke-width="1"/>
<line x1="549.9000000000001" y1="281.3" x2="553.5" y2="281.3" stroke="#f08a36" stroke-width="1"/>
<line x1="549.9000000000001" y1="285.3" x2="553.5" y2="285.3" stroke="#f08a36" stroke-width="1"/>
<circle cx="551.7" cy="283.3" r="1.7" fill="none" stroke="#f08a36" stroke-width="1.1"/>
<line x1="569.7" y1="274.5" x2="569.7" y2="276.1" stroke="#f08a36" stroke-width="1"/>
<line x1="567.9000000000001" y1="274.5" x2="571.5" y2="274.5" stroke="#f08a36" stroke-width="1"/>
<line x1="567.9000000000001" y1="276.1" x2="571.5" y2="276.1" stroke="#f08a36" stroke-width="1"/>
<circle cx="569.7" cy="275.3" r="1.7" fill="none" stroke="#f08a36" stroke-width="1.1"/>
<line x1="588.3" y1="258.5" x2="588.3" y2="260.5" stroke="#f08a36" stroke-width="1"/>
<line x1="586.5" y1="258.5" x2="590.0999999999999" y2="258.5" stroke="#f08a36" stroke-width="1"/>
<line x1="586.5" y1="260.5" x2="590.0999999999999" y2="260.5" stroke="#f08a36" stroke-width="1"/>
<line x1="585.5" y1="259.5" x2="591.0999999999999" y2="259.5" stroke="#f08a36" stroke-width="1"/>
<circle cx="588.3" cy="259.5" r="1.7" fill="none" stroke="#f08a36" stroke-width="1.1"/>
<line x1="608" y1="248.8" x2="608" y2="253.3" stroke="#f08a36" stroke-width="1"/>
<line x1="606.2" y1="248.8" x2="609.8" y2="248.8" stroke="#f08a36" stroke-width="1"/>
<line x1="606.2" y1="253.3" x2="609.8" y2="253.3" stroke="#f08a36" stroke-width="1"/>
<circle cx="608" cy="250.8" r="1.7" fill="none" stroke="#f08a36" stroke-width="1.1"/>
<line x1="636.6" y1="229.7" x2="636.6" y2="236.6" stroke="#f08a36" stroke-width="1"/>
<line x1="634.8000000000001" y1="229.7" x2="638.4" y2="229.7" stroke="#f08a36" stroke-width="1"/>
<line x1="634.8000000000001" y1="236.6" x2="638.4" y2="236.6" stroke="#f08a36" stroke-width="1"/>
<circle cx="636.6" cy="232.7" r="1.7" fill="none" stroke="#f08a36" stroke-width="1.1"/>
<line x1="644.1" y1="214.9" x2="644.1" y2="221.1" stroke="#f08a36" stroke-width="1"/>
<line x1="642.3000000000001" y1="214.9" x2="645.9" y2="214.9" stroke="#f08a36" stroke-width="1"/>
<line x1="642.3000000000001" y1="221.1" x2="645.9" y2="221.1" stroke="#f08a36" stroke-width="1"/>
<line x1="641.3000000000001" y1="219.1" x2="646.9" y2="219.1" stroke="#f08a36" stroke-width="1"/>
<circle cx="644.1" cy="219.1" r="1.7" fill="none" stroke="#f08a36" stroke-width="1.1"/>
<line x1="650.4" y1="215.1" x2="650.4" y2="218.1" stroke="#f08a36" stroke-width="1"/>
<line x1="648.6" y1="215.1" x2="652.1999999999999" y2="215.1" stroke="#f08a36" stroke-width="1"/>
<line x1="648.6" y1="218.1" x2="652.1999999999999" y2="218.1" stroke="#f08a36" stroke-width="1"/>
<line x1="648.4" y1="216.6" x2="652.4" y2="216.6" stroke="#f08a36" stroke-width="1"/>
<circle cx="650.4" cy="216.6" r="1.7" fill="none" stroke="#f08a36" stroke-width="1.1"/>
<line x1="653.3" y1="211.2" x2="653.3" y2="221.5" stroke="#f08a36" stroke-width="1"/>
<line x1="651.5" y1="211.2" x2="655.0999999999999" y2="211.2" stroke="#f08a36" stroke-width="1"/>
<line x1="651.5" y1="221.5" x2="655.0999999999999" y2="221.5" stroke="#f08a36" stroke-width="1"/>
<circle cx="653.3" cy="216.2" r="1.7" fill="none" stroke="#f08a36" stroke-width="1.1"/>
<polygon points="575.50,264.80 576.79,267.52 579.78,267.91 577.59,269.98 578.15,272.94 575.50,271.50 572.85,272.94 573.41,269.98 571.22,267.91 574.21,267.52" fill="#ff1010"/>
<text x="510.8" y="287.6" font-size="10.4" fill="#111"><tspan style="font-style:italic">k</tspan>=0</text>
<line x1="518.80" y1="293.30" x2="516.30" y2="303.60" stroke="#111" stroke-width="1.3" />
<polygon points="515.30,299.24 516.30,303.60 519.19,300.18" fill="#111"/>
<text x="649.6" y="242.9" font-size="9.9" fill="#111"><tspan style="font-style:italic">k</tspan>=1</text>
<line x1="656.30" y1="233.20" x2="656.30" y2="223.30" stroke="#111" stroke-width="1.3" />
<polygon points="658.30,227.30 656.30,223.30 654.30,227.30" fill="#111"/></svg>
</body></html>
